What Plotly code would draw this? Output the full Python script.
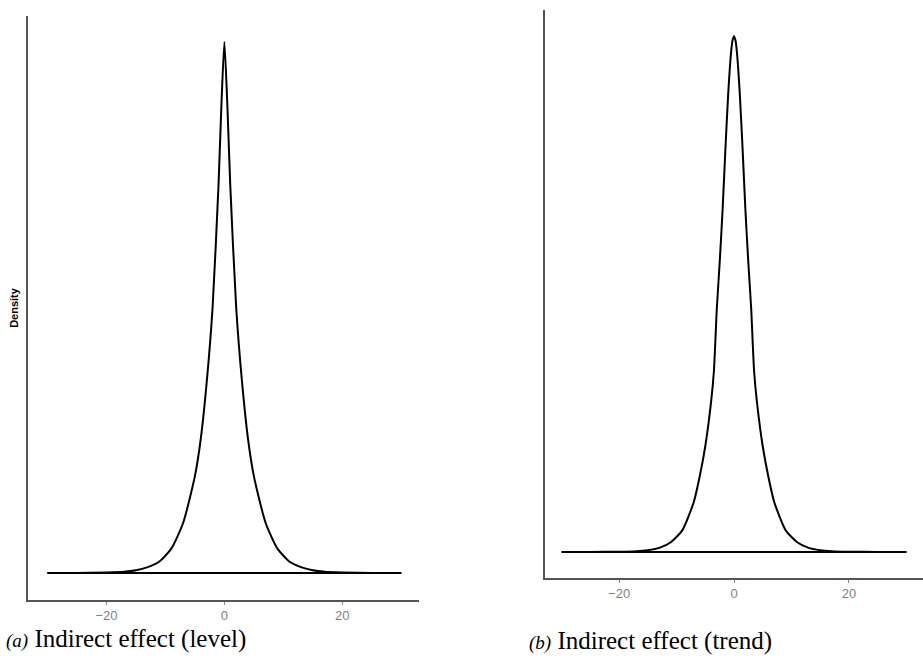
import plotly.graph_objects as go

# ---- data ----
level_x = [-30, -25, -20, -17, -15, -13, -11, -9, -7, -5, -4, -3, -2, -1, -0.5, 0,
           0.5, 1, 2, 3, 4, 5, 7, 9, 11, 13, 15, 17, 20, 25, 30]
level_y = [0.0, 0.00003, 0.00017, 0.0004, 0.00085, 0.0019, 0.0037, 0.0078, 0.016, 0.031,
           0.043, 0.061, 0.085, 0.124, 0.150, 0.170,
           0.150, 0.124, 0.085, 0.061, 0.043, 0.031, 0.016, 0.0078, 0.0037, 0.0019,
           0.00085, 0.0004, 0.00017, 0.00003, 0.0]

trend_x = [-30, -25, -20, -17, -15, -13, -11, -9, -7, -6, -5, -4, -3.5, -3, -2.5, -2,
           -1.5, -1, -0.5, -0.25, 0, 0.25, 0.5, 1, 1.5, 2, 2.5, 3, 3.5, 4, 5, 6, 7, 9, 11, 13,
           15, 17, 20, 25, 30]
trend_y = [0.0, 0.000015, 0.000075, 0.000225, 0.000525, 0.0012, 0.00285, 0.0063, 0.01455,
           0.02175, 0.03075, 0.0435, 0.0525, 0.0705, 0.084, 0.099,
           0.117, 0.1335, 0.1455, 0.1488, 0.150, 0.1488, 0.1455, 0.1335, 0.117, 0.099, 0.084,
           0.0705, 0.0525, 0.0435, 0.03075, 0.02175, 0.01455, 0.0063, 0.00285, 0.0012,
           0.000525, 0.000225, 0.000075, 0.000015, 0.0]

tick_vals = [-20, 0, 20]
tick_text = ["\u221220", "0", "20"]
captions = ["<i><span style='font-size:19px'>(a)</span></i> Indirect effect (level)",
            "<i><span style='font-size:19px'>(b)</span></i> Indirect effect (trend)"]

W, H = 923, 658

fig = go.Figure()

for xs, ys, xa, ya in [(level_x, level_y, "x", "y"), (trend_x, trend_y, "x2", "y2")]:
    # density curve
    fig.add_trace(go.Scatter(x=xs, y=ys, mode="lines",
                             line=dict(color="black", width=2, shape="spline", smoothing=0.6),
                             xaxis=xa, yaxis=ya, showlegend=False, hoverinfo="skip"))
    # baseline of the density outline (geom_density polygon)
    fig.add_trace(go.Scatter(x=[xs[0], xs[-1]], y=[ys[0], ys[-1]], mode="lines",
                             line=dict(color="black", width=2.2),
                             xaxis=xa, yaxis=ya, showlegend=False, hoverinfo="skip"))

axis_common = dict(showgrid=False, zeroline=False, showline=True, linecolor="#555555",
                   linewidth=1.6)
xcommon = dict(axis_common, tickmode="array", tickvals=tick_vals, ticktext=tick_text,
               ticks="outside", ticklen=3, tickwidth=1, tickcolor="#888888",
               tickfont=dict(family="Liberation Sans, Arial", size=13, color="#7f7f7f"))
ycommon = dict(axis_common, showticklabels=False, ticks="")

cap_font = dict(family="Liberation Serif, Times New Roman", size=25, color="black")

fig.update_layout(
    width=W, height=H,
    margin=dict(l=0, r=0, t=0, b=0),
    paper_bgcolor="white", plot_bgcolor="white",
    xaxis=dict(xcommon, domain=[28 / W, 419 / W], range=[-33.3, 33.0], anchor="y"),
    yaxis=dict(ycommon, domain=[(H - 600) / H, (H - 16) / H], range=[-0.00864, 0.1783],
               anchor="x",
               title=dict(text="<b>Density</b>", standoff=5,
                          font=dict(family="Liberation Sans, Arial", size=11, color="black"))),
    xaxis2=dict(xcommon, domain=[545 / W, 1.0], range=[-32.9, 32.9], anchor="y2"),
    yaxis2=dict(ycommon, domain=[(H - 578) / H, (H - 10) / H], range=[-0.00756, 0.1576],
                anchor="x2"),
    annotations=[
        dict(text=captions[0], x=4 / W, y=(H - 639) / H, xref="paper", yref="paper",
             xanchor="left", yanchor="middle", showarrow=False, font=cap_font),
        dict(text=captions[1], x=527 / W, y=(H - 641) / H, xref="paper", yref="paper",
             xanchor="left", yanchor="middle", showarrow=False, font=cap_font),
    ],
)

fig.write_html("out.html")
